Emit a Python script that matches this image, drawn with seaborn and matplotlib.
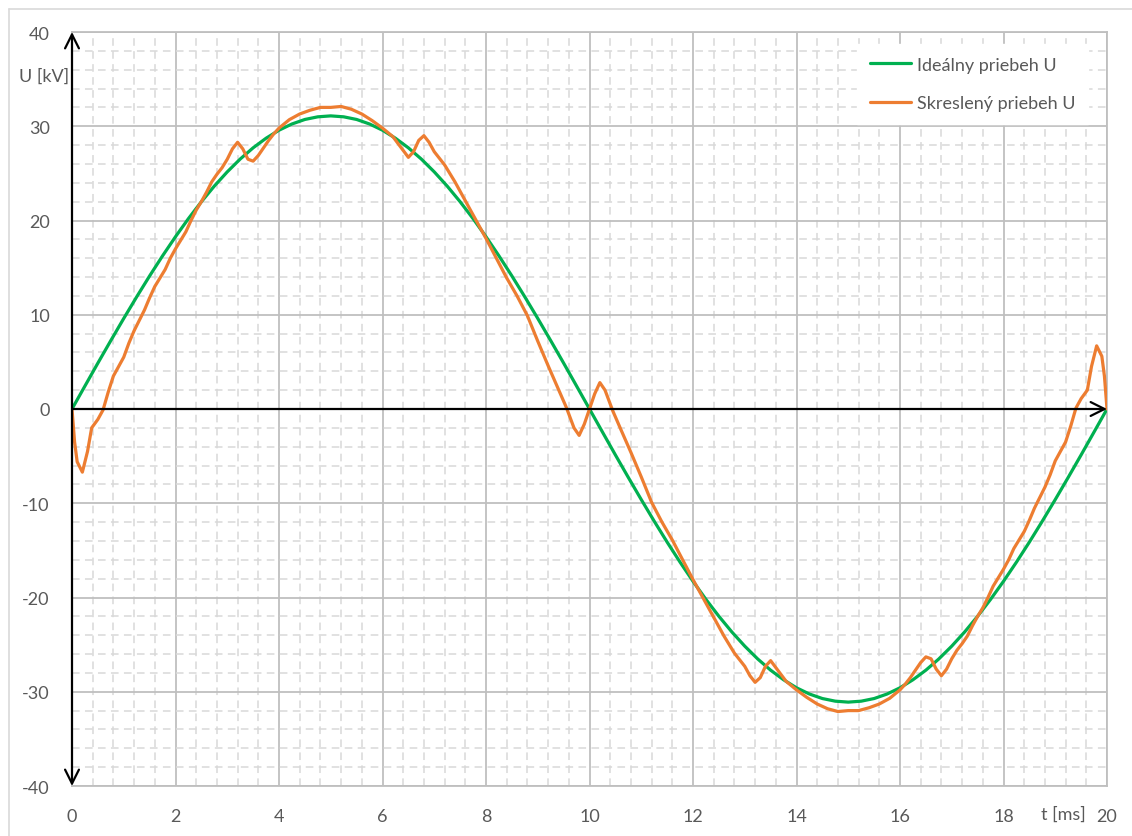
import matplotlib
matplotlib.use("Agg")
import matplotlib.pyplot as plt
import pandas as pd
import seaborn as sns
from matplotlib.lines import Line2D

# ideal sine, read every 0.25 ms
t_ideal = [i * 0.25 for i in range(81)]
u_ideal = [0, 2.44, 4.87, 7.26, 9.61, 11.90, 14.12, 16.25, 18.28, 20.20,
           21.99, 23.65, 25.16, 26.52, 27.71, 28.73, 29.58, 30.24, 30.72, 31.00,
           31.1, 31.00, 30.72, 30.24, 29.58, 28.73, 27.71, 26.52, 25.16, 23.65,
           21.99, 20.20, 18.28, 16.25, 14.12, 11.90, 9.61, 7.26, 4.87, 2.44,
           0, -2.44, -4.87, -7.26, -9.61, -11.90, -14.12, -16.25, -18.28, -20.20,
           -21.99, -23.65, -25.16, -26.52, -27.71, -28.73, -29.58, -30.24, -30.72, -31.00,
           -31.1, -31.00, -30.72, -30.24, -29.58, -28.73, -27.71, -26.52, -25.16, -23.65,
           -21.99, -20.20, -18.28, -16.25, -14.12, -11.90, -9.61, -7.26, -4.87, -2.44, 0]

# distorted curve
t_dist = [0.0, 0.05, 0.1, 0.2, 0.3, 0.38, 0.5, 0.6, 0.7, 0.8, 0.9, 1.0, 1.1, 1.2, 1.3,
          1.4, 1.5, 1.6, 1.7, 1.8, 1.9, 2.0, 2.1, 2.2, 2.3, 2.4, 2.5, 2.6, 2.7, 2.8,
          2.9, 3.0, 3.1, 3.2, 3.3, 3.4, 3.5, 3.6, 3.7, 3.8, 3.9, 4.0, 4.2, 4.4, 4.6,
          4.8, 5.0, 5.2, 5.4, 5.6, 5.8, 6.0, 6.2, 6.35, 6.5, 6.6, 6.7, 6.8, 6.9, 7.0,
          7.2, 7.4, 7.6, 7.8, 8.0, 8.2, 8.4, 8.6, 8.8, 9.0, 9.2, 9.4, 9.55, 9.7, 9.8,
          9.9, 10.0,
          10.1, 10.2, 10.3, 10.45, 10.6, 10.8, 11.0, 11.2, 11.4, 11.6, 11.8, 12.0,
          12.2, 12.4, 12.6, 12.8, 13.0, 13.1, 13.2, 13.3, 13.4, 13.5, 13.65, 13.8,
          14.0, 14.2, 14.4, 14.6, 14.8, 15.0, 15.2, 15.4, 15.6, 15.8, 16.0, 16.1,
          16.2, 16.3, 16.4, 16.5, 16.6, 16.7, 16.8, 16.9, 17.0, 17.1, 17.2, 17.3,
          17.4, 17.5, 17.6, 17.7, 17.8, 17.9, 18.0, 18.1, 18.2, 18.3, 18.4, 18.5,
          18.6, 18.7, 18.8, 18.9, 19.0, 19.1, 19.2, 19.3, 19.4, 19.5, 19.62, 19.7,
          19.8, 19.9, 19.95, 20.0]
u_dist = [0, -3.5, -5.6, -6.7, -4.5, -2.0, -1.1, -0.1, 1.8, 3.5, 4.5, 5.5, 7.0, 8.3, 9.4,
          10.5, 11.8, 13.0, 13.9, 14.8, 16.0, 17.0, 17.9, 18.8, 20.0, 21.1, 22.0, 23.0, 24.1, 24.9,
          25.6, 26.5, 27.6, 28.3, 27.6, 26.5, 26.3, 26.9, 27.7, 28.5, 29.2, 29.8, 30.7, 31.3, 31.7,
          32.0, 32.0, 32.1, 31.8, 31.3, 30.6, 29.8, 28.9, 27.8, 26.7, 27.3, 28.5, 29.0, 28.3, 27.3,
          25.9, 24.1, 22.1, 20.1, 18.1, 16.0, 13.9, 12.0, 9.9, 7.2, 4.6, 2.1, 0.2, -2.0, -2.8,
          -1.6, 0,
          1.6, 2.8, 2.0, -0.2, -2.1, -4.6, -7.2, -9.9, -12.0, -13.9, -16.0, -18.1,
          -20.1, -22.1, -24.1, -25.9, -27.3, -28.3, -29.0, -28.5, -27.3, -26.7, -27.8, -28.9,
          -29.8, -30.6, -31.3, -31.8, -32.1, -32.0, -32.0, -31.7, -31.3, -30.7, -29.8, -29.2,
          -28.5, -27.7, -26.9, -26.3, -26.5, -27.6, -28.3, -27.6, -26.5, -25.6, -24.9, -24.1,
          -23.0, -22.0, -21.1, -20.0, -18.8, -17.9, -17.0, -16.0, -14.8, -13.9, -13.0, -11.8,
          -10.5, -9.4, -8.3, -7.0, -5.5, -4.5, -3.5, -1.8, 0.1, 1.1, 2.0, 4.5,
          6.7, 5.6, 3.5, 0]

x_ticks = [0, 2, 4, 6, 8, 10, 12, 14, 16, 18, 20]
y_ticks = [-40, -30, -20, -10, 0, 10, 20, 30, 40]

green = '#00B050'
orange = '#ED7D31'
grey_txt = '#595959'

sns.set_theme(style='white')
plt.rcParams['font.family'] = ['Lato', 'DejaVu Sans']
plt.rcParams['axes.unicode_minus'] = False

df_ideal = pd.DataFrame({'t': t_ideal, 'U': u_ideal})
df_dist = pd.DataFrame({'t': t_dist, 'U': u_dist})

fig = plt.figure(figsize=(11.32, 8.37), dpi=100)
ax = fig.add_axes([72 / 1132, 1 - 787 / 837, (1107 - 72) / 1132, (787 - 33) / 837])

# outer chart border
fig.add_artist(Line2D([9 / 1132, 9 / 1132], [0, 1 - 10 / 837], transform=fig.transFigure,
                      color='#d9d9d9', lw=1.2))
fig.add_artist(Line2D([9 / 1132, 1], [1 - 10 / 837, 1 - 10 / 837], transform=fig.transFigure,
                      color='#d9d9d9', lw=1.2))

sns.lineplot(data=df_ideal, x='t', y='U', ax=ax, color=green, lw=2.3, zorder=4,
             label='Ideálny priebeh U', solid_joinstyle='round')
sns.lineplot(data=df_dist, x='t', y='U', ax=ax, color=orange, lw=2.3, zorder=5,
             label='Skreslený priebeh U', solid_joinstyle='round')

ax.set_xlim(0, 20)
ax.set_ylim(-40, 40)
ax.set_xticks(x_ticks)
ax.set_yticks(y_ticks)
ax.set_xticks([i * 0.4 for i in range(51)], minor=True)
ax.set_yticks([-40 + i * 2 for i in range(41)], minor=True)
ax.grid(which='major', color='#bfbfbf', lw=1.3, zorder=1)
ax.grid(which='minor', color='#d9d9d9', lw=1.1, linestyle=(0, (5, 3.5)), zorder=0)
ax.set_axisbelow(True)
for s in ax.spines.values():
    s.set_color('#bfbfbf')
    s.set_linewidth(1.3)
ax.tick_params(which='both', length=0, labelsize=13, labelcolor=grey_txt)
ax.tick_params(axis='x', pad=16)
ax.tick_params(axis='y', pad=16)
ax.set_xlabel('')
ax.set_ylabel('')

# axes with arrows
ax.annotate('', xy=(0, 40), xytext=(0, -40),
            arrowprops=dict(arrowstyle='<->,head_length=1.0,head_width=0.5', lw=1.6,
                            color='black', shrinkA=0, shrinkB=0, mutation_scale=10),
            zorder=6, annotation_clip=False)
ax.annotate('', xy=(20, 0), xytext=(0, 0),
            arrowprops=dict(arrowstyle='->,head_length=1.0,head_width=0.5', lw=1.6,
                            color='black', shrinkA=0, shrinkB=0, mutation_scale=10),
            zorder=6, annotation_clip=False)

fig.text(44 / 1132, 1 - 77 / 837, 'U [kV]', ha='center', va='center', fontsize=13,
         color=grey_txt)
fig.text(1063 / 1132, 1 - 815 / 837, 't [ms]', ha='center', va='center', fontsize=13,
         color=grey_txt)

leg = ax.legend(loc='upper left', bbox_to_anchor=(857 / 1132, 1 - 45 / 837),
                bbox_transform=fig.transFigure, frameon=True, fancybox=False,
                edgecolor='white', facecolor='white', framealpha=1,
                fontsize=13, handlelength=2.3, handletextpad=0.3, labelspacing=1.25,
                borderpad=0.7, borderaxespad=0)
for txt in leg.get_texts():
    txt.set_color(grey_txt)
leg.set_zorder(7)

fig.savefig('out.png', dpi=100)
